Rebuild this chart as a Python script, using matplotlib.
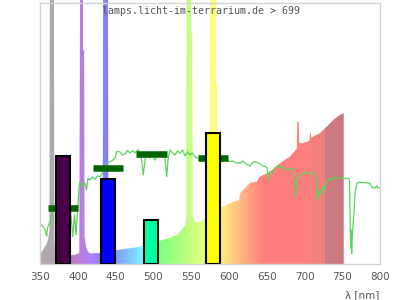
import numpy as np
import matplotlib
matplotlib.use("Agg")
import matplotlib.pyplot as plt
from matplotlib.patches import Polygon

# --- Data (relative intensity, 100 = top of frame) ---
# lamp spectrum outline (nm, value); peaks run off the top of the frame
SPEC_NM = [350, 354, 358, 360.6, 362.5, 363, 368.5, 369, 370, 390, 396, 402,
           403, 407, 407, 408.5, 409, 411, 413.5, 416, 429, 433, 433.5, 440,
           440.5, 449.7, 462.5, 475.7, 486, 508, 520, 531, 537.5, 542, 543.5,
           544, 550, 550, 551.5, 552, 555, 558, 562, 566, 574.5, 575, 583, 583,
           584.5, 585, 589.5, 592, 605.5, 613.5, 614.7, 621.3, 628, 636.8, 641,
           654.4, 667.6, 680.9, 687.5, 690, 690.5, 692.5, 693, 696, 704.7,
           706.8, 707.3, 708.5, 709, 711.3, 720.6, 727.2, 733.8, 740.4, 747, 752]
SPEC_VAL = [3.8, 5.4, 7.3, 9.2, 13, 102, 102, 8, 5, 3.5, 3.5, 4.2,
            102, 102, 82, 82, 10.5, 6.6, 4.7, 4.1, 4.2, 5, 102, 102,
            6, 5.2, 5.8, 6.3, 6.9, 8.9, 9.9, 11.1, 13.1, 15, 17,
            102, 102, 88.7, 88.7, 18.2, 16.2, 15.9, 16.2, 16.9, 19, 102, 102, 68.3,
            68.3, 21, 21.9, 21.9, 23.9, 24.5, 27.1, 29.1, 31.1, 31.6, 33.5,
            35.4, 38.7, 41.2, 43.5, 44.4, 54.6, 54.6, 46.5, 46.3, 47,
            47.5, 50.3, 50.3, 48.5, 48.9, 50.2, 52.1, 54, 55.9, 57.2, 57.9]

# daylight reference curve (green line)
SUN_NM = [351.7, 354.4, 356.6, 358.9, 359.9, 363.2, 365.5, 367.6, 380, 390.6,
          393.3, 395.7, 397.6, 400.7, 402, 402.9, 405.6, 409.6, 411.5, 413.5,
          416.2, 419.5, 422.8, 426.1, 429.4, 433.8, 436, 438.3, 442.6, 446.6,
          449.3, 451.5, 455.5, 458.5, 462.5, 465.8, 469.1, 472.4, 475.7, 479.7,
          483.7, 486.7, 489, 491.6, 495.6, 498.2, 502.2, 506.2, 510.1, 512.8,
          515.4, 517.7, 519.4, 522, 525.4, 528.7, 532, 535.3, 538.6, 541.9,
          545.2, 548.5, 551.8, 555.1, 557.8, 561.8, 575, 591.3, 596.2, 601.5,
          605.4, 609.4, 614.7, 618.7, 622.6, 627.9, 630.6, 634.5, 638.5, 641.2,
          645.1, 647.8, 650.4, 652.4, 654.4, 657, 661, 665, 669, 674.3,
          678.2, 682.2, 684.8, 686.8, 688.2, 689.5, 691.4, 694.1, 698.1, 700.7,
          704.7, 707.3, 711.3, 714, 715.9, 717.3, 718.6, 719.9, 720.6, 722.6,
          724.5, 726.5, 728.5, 731.2, 733.8, 736.4, 740.4, 744.4, 749.7, 753.6,
          757.6, 759.6, 760.3, 761.3, 762, 762.5, 763.3, 764.2, 765.6, 766.9,
          769.5, 773.5, 780.1, 786.7, 789.4, 793.4, 796, 797.3, 800]
SUN_VAL = [15.0, 14.3, 13.1, 10.7, 13.8, 16.2, 18.8, 20.7, 20.5, 20.1,
           10.5, 18.8, 11.1, 24.6, 30.3, 31.6, 29.9, 31.0, 28.4, 32.9,
           32.2, 33.4, 32.5, 33.8, 33.5, 35.4, 36.9, 38.8, 39.2, 39.9,
           40.6, 43.1, 43.1, 41.8, 42.2, 43.6, 42.6, 43.4, 42.7, 43.8,
           41.8, 34.2, 39.9, 42.6, 40.7, 42.2, 39.9, 43.0, 41.8, 43.0,
           40.7, 33.5, 39.9, 43.8, 42.6, 41.8, 43.4, 42.5, 43.8, 41.5,
           43.0, 41.8, 42.6, 41.2, 40.7, 40.7, 40.3, 39.3, 39.9, 39.3,
           39.5, 38.8, 38.7, 39.5, 38.4, 37.6, 38.8, 39.3, 38.8, 38.4,
           37.6, 37.4, 36.9, 32.2, 35.4, 34.9, 36.9, 37.6, 37.2, 36.7,
           36.1, 36.7, 36.7, 34.2, 25.8, 30.3, 32.2, 33.5, 34.8, 35.4,
           34.5, 35.0, 34.9, 34.5, 32.2, 24.6, 27.6, 26.1, 28.4, 27.3,
           29.7, 28.4, 31.0, 31.9, 32.9, 32.2, 33.3, 32.9, 33.1, 32.9,
           32.9, 32.2, 18.8, 6.1, 13.0, 4.1, 11.1, 14.3, 19.5, 27.1,
           31.0, 31.4, 31.2, 31.0, 29.4, 29.1, 30.0, 29.2, 29.4]

# LED bars and their dark green markers
BAR_NM = [380, 439.5, 497.5, 579]
BAR_VAL = [41.3, 32.5, 16.8, 50.2]
BAR_COLORS = ['#4a0048', '#0000ff', '#00ffa0', '#ffff00']
MARK_VAL = [21.4, 36.7, 42.2, 40.7]

XTICKS = [350, 400, 450, 500, 550, 600, 650, 700, 750, 800]
TITLE = "lamps.licht-im-terrarium.de > 699"
XLABEL = "λ [nm]"

TEXT_COLOR = '#555555'
FRAME_COLOR = '#d4d4d4'


def wl_rgb(w):
    """Pastel colour for a wavelength (spectrum colour mixed with white)."""
    if w < 370:
        return (0.69, 0.66, 0.69)
    if w >= 727:
        return (0.80, 0.48, 0.50)
    if w < 440:
        r, g, b = (440 - w) / 60, 0.0, 1.0
    elif w < 490:
        r, g, b = 0.0, (w - 440) / 50, 1.0
    elif w < 510:
        r, g, b = 0.0, 1.0, (510 - w) / 20
    elif w < 580:
        r, g, b = (w - 510) / 70, 1.0, 0.0
    elif w < 645:
        r, g, b = 1.0, (645 - w) / 65, 0.0
    else:
        r, g, b = 1.0, 0.0, 0.0
    f = 1.0
    if w < 420:
        f = max(0.3, 0.3 + 0.7 * (w - 380) / 40)
    elif w > 700:
        f = 1.0 - 0.12 * (w - 700) / 27
    return tuple(0.5 + 0.5 * c * f for c in (r, g, b))


fig = plt.figure(figsize=(4, 3), dpi=100)
ax = fig.add_axes([0.1, 0.12, 0.85, 0.88])

# --- spectrum: colour gradient clipped to the outline ---
grid_nm = np.arange(SPEC_NM[0], SPEC_NM[-1] + 0.5, 0.5)
rgb = np.array([wl_rgb(w) for w in grid_nm])[np.newaxis, :, :]
im = ax.imshow(rgb, extent=[SPEC_NM[0], SPEC_NM[-1], 0, 102], aspect='auto',
               origin='lower', interpolation='nearest', zorder=1)
verts = [(SPEC_NM[0], 0)] + list(zip(SPEC_NM, SPEC_VAL)) + [(SPEC_NM[-1], 0)]
outline = Polygon(verts, closed=True, facecolor='none', edgecolor='none')
ax.add_patch(outline)
im.set_clip_path(outline)

# --- daylight curve ---
ax.plot(SUN_NM, SUN_VAL, color='#5ad45a', linewidth=0.9, zorder=2)

# --- markers and bars ---
bar_nm = np.array(BAR_NM)
ax.hlines(MARK_VAL, bar_nm - 20, bar_nm + 20, colors='#006400',
          linewidth=4.7, capstyle='butt', zorder=3)
ax.bar(BAR_NM, BAR_VAL, width=18.5, color=BAR_COLORS, edgecolor='black',
       linewidth=1.5, zorder=4)

ax.set_xlim(350, 800)
ax.set_ylim(0, 101.3)
ax.set_xticks(XTICKS)
ax.set_yticks([])
ax.tick_params(axis='x', length=0, pad=6, labelsize=7.5, labelcolor=TEXT_COLOR)

for side in ['left', 'right', 'top', 'bottom']:
    ax.spines[side].set_color(FRAME_COLOR)
    ax.spines[side].set_linewidth(1)
ax.spines['top'].set_position(('data', 100))
ax.spines['left'].set_bounds(0, 100)
ax.spines['right'].set_bounds(0, 100)

fig.text(200.5 / 400, 1 - 10.5 / 300, TITLE, ha='center', va='center',
         family='DejaVu Sans Mono', fontsize=7.2, color=TEXT_COLOR, zorder=10)
fig.text(379 / 400, 1 - 295 / 300, XLABEL, ha='right', va='center',
         fontsize=7.5, color=TEXT_COLOR)

fig.savefig('out.png', dpi=100)
